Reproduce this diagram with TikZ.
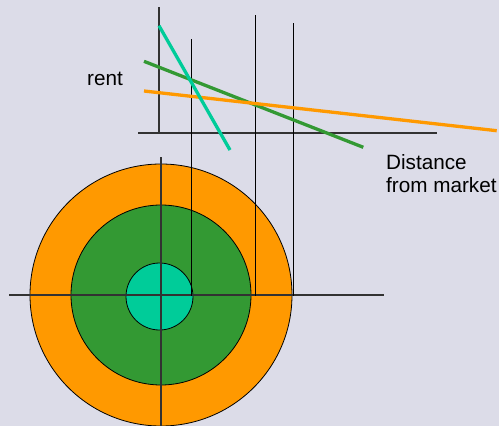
\documentclass[tikz,border=0pt]{standalone}
\usepackage{fontspec}
\setmainfont{Liberation Sans}
\definecolor{bgc}{RGB}{220,220,232}
\definecolor{orng}{RGB}{255,153,0}
\definecolor{grn}{RGB}{51,153,51}
\definecolor{teal2}{RGB}{0,204,153}
\definecolor{axisc}{RGB}{50,50,50}
\tikzset{
  axis/.style={draw=axisc, line width=1.2pt},
  proj/.style={draw=black, line width=1pt},
  ring/.style={draw=black, line width=0.8pt},
  rentline/.style={line width=3.3pt},
  lbl/.style={font=\fontsize{20.7}{23}\selectfont, inner sep=0pt, anchor=base west}
}
\begin{document}
\begin{tikzpicture}[x=1pt,y=-1pt]
\fill[bgc] (0,0) rectangle (499,426);
\useasboundingbox (0,0) rectangle (499,426);
\begin{scope}
\clip (0,0) rectangle (499,426);
% rings
\coordinate (c) at (161,295);
\coordinate (ci) at (159.5,296.5);
\filldraw[ring, fill=orng] (c) circle[radius=131];
\filldraw[ring, fill=grn] (c) circle[radius=90];
\filldraw[ring, fill=teal2] (ci) circle[radius=33.5];
% circle axes
\coordinate (hl) at (9,295);
\coordinate (hr) at (384,295);
\coordinate (vt) at (161,157);
\coordinate (vb) at (161,426);
\draw[axis] (hl) -- (hr);
\draw[axis] (vt) -- (vb);
\end{scope}
% rent graph axes
\coordinate (ya) at (159,7);
\coordinate (o) at (159,133);
\coordinate (xa) at (138,133);
\coordinate (xb) at (437,133);
\draw[axis] (ya) -- (o);
\draw[axis] (xa) -- (xb);
% projection lines
\coordinate (p1t) at (191,39);
\coordinate (p1b) at (191,296);
\coordinate (p2t) at (255,15);
\coordinate (p2b) at (255,296);
\coordinate (p3t) at (293,23);
\coordinate (p3b) at (293,296);
\draw[proj] (p1t) -- (p1b);
\draw[proj] (p2t) -- (p2b);
\draw[proj] (p3t) -- (p3b);
% bid-rent lines
\coordinate (ga) at (144,61.3);
\coordinate (gb) at (363.3,147.3);
\coordinate (oa) at (144,91);
\coordinate (ob) at (496.7,130.7);
\coordinate (ta) at (159,25.7);
\coordinate (tb) at (230,150);
\draw[rentline, grn] (ga) -- (gb);
\draw[rentline, orng] (oa) -- (ob);
\draw[rentline, teal2] (ta) -- (tb);
% labels
\node[lbl] (rent) at (87,85.7) {rent};
\node[lbl] (dist) at (386,169) {Distance};
\node[lbl] (mkt) at (386,192.3) {from market};
\end{tikzpicture}
\end{document}
